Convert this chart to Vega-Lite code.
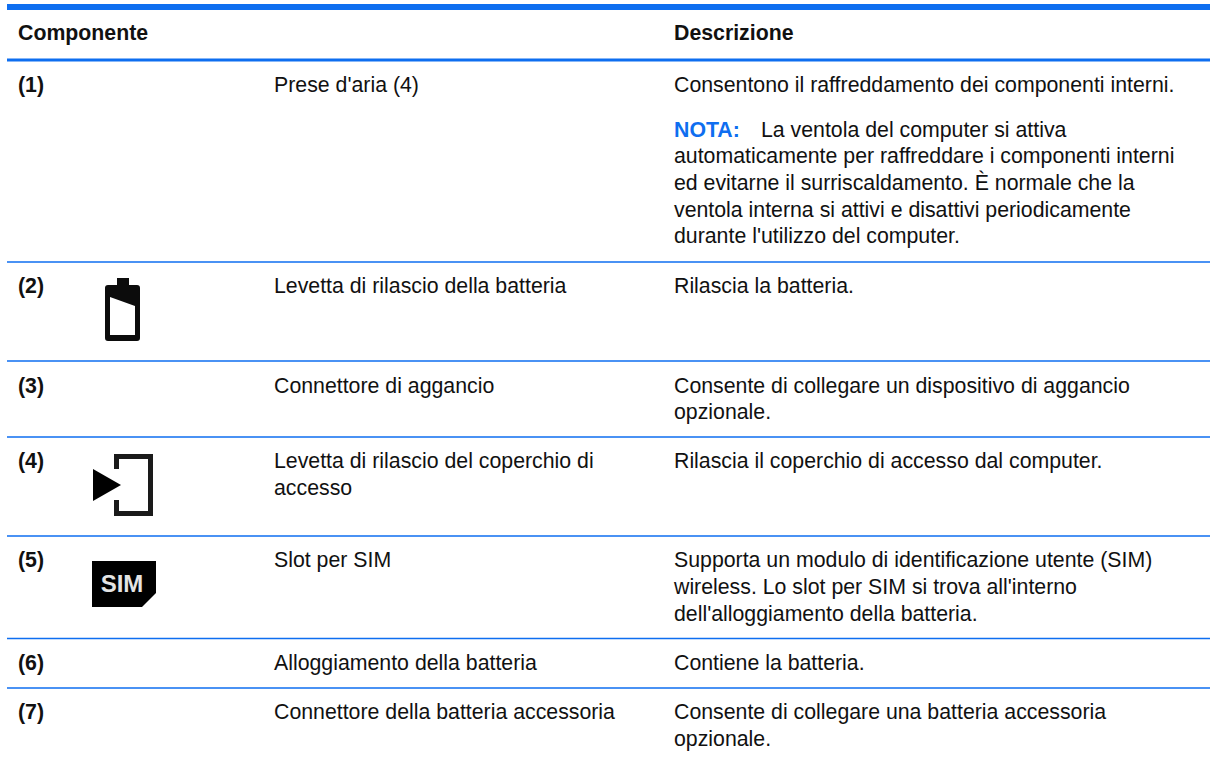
{"$schema":"https://vega.github.io/schema/vega-lite/v6.json","width":1210,"height":761,"padding":0,"autosize":"none","background":"white","config":{"view":{"stroke":null},"text":{"font":"Liberation Sans","fontSize":21.3,"align":"left","baseline":"alphabetic"}},
"datasets":{"rules":[{"a":7,"b":1210,"y":7,"w":6},{"a":7,"b":1210,"y":60,"w":3},{"a":7,"b":1210,"y":262,"w":1.5},{"a":7,"b":1210,"y":361,"w":1.5},{"a":7,"b":1210,"y":437,"w":1.5},{"a":7,"b":1210,"y":536,"w":1.5},{"a":7,"b":1210,"y":638.5,"w":1.5},{"a":7,"b":1210,"y":688,"w":1.5}],
"reg":[{"x":274,"y":92,"t":"Prese d'aria (4)"},{"x":674,"y":92,"t":"Consentono il raffreddamento dei componenti interni."},{"x":761,"y":137,"t":"La ventola del computer si attiva"},{"x":674,"y":163,"t":"automaticamente per raffreddare i componenti interni"},{"x":674,"y":190,"t":"ed evitarne il surriscaldamento. È normale che la"},{"x":674,"y":217,"t":"ventola interna si attivi e disattivi periodicamente"},{"x":674,"y":243,"t":"durante l'utilizzo del computer."},{"x":274,"y":293,"t":"Levetta di rilascio della batteria"},{"x":674,"y":293,"t":"Rilascia la batteria."},{"x":274,"y":393,"t":"Connettore di aggancio"},{"x":674,"y":393,"t":"Consente di collegare un dispositivo di aggancio"},{"x":674,"y":419,"t":"opzionale."},{"x":274,"y":468,"t":"Levetta di rilascio del coperchio di"},{"x":674,"y":468,"t":"Rilascia il coperchio di accesso dal computer."},{"x":274,"y":495,"t":"accesso"},{"x":274,"y":567,"t":"Slot per SIM"},{"x":674,"y":567,"t":"Supporta un modulo di identificazione utente (SIM)"},{"x":674,"y":594,"t":"wireless. Lo slot per SIM si trova all'interno"},{"x":674,"y":621,"t":"dell'alloggiamento della batteria."},{"x":274,"y":670,"t":"Alloggiamento della batteria"},{"x":674,"y":670,"t":"Contiene la batteria."},{"x":274,"y":719,"t":"Connettore della batteria accessoria"},{"x":674,"y":719,"t":"Consente di collegare una batteria accessoria"},{"x":674,"y":746,"t":"opzionale."}],
"bold":[{"x":18,"y":40,"t":"Componente"},{"x":674,"y":40,"t":"Descrizione"},{"x":18,"y":92,"t":"(1)"},{"x":18,"y":293,"t":"(2)"},{"x":18,"y":393,"t":"(3)"},{"x":18,"y":468,"t":"(4)"},{"x":18,"y":567,"t":"(5)"},{"x":18,"y":670,"t":"(6)"},{"x":18,"y":719,"t":"(7)"}],
"nota":[{"x":674,"y":137,"t":"NOTA:"}],
"batt":[{"x":122,"y":310}],"tri":[{"x":106,"y":485}],"door":[{"x":133,"y":485}],"sim":[{"x":124,"y":584}],"simt":[{"x":122,"y":592,"t":"SIM"}]},
"encoding":{"x":{"field":"x","type":"quantitative","scale":{"domain":[0,1210],"range":[0,1210],"nice":false,"zero":false},"axis":null},"y":{"field":"y","type":"quantitative","scale":{"domain":[0,761],"range":[0,761],"nice":false,"zero":false},"axis":null}},
"layer":[
{"data":{"name":"rules"},"mark":{"type":"rule","color":"#0E6EF0"},"encoding":{"x":{"field":"a","type":"quantitative","scale":{"domain":[0,1210],"range":[0,1210]},"axis":null},"x2":{"field":"b"},"y":{"field":"y","type":"quantitative","axis":null},"strokeWidth":{"field":"w","type":"quantitative","scale":null}}},
{"data":{"name":"reg"},"mark":{"type":"text","color":"#111111"},"encoding":{"text":{"field":"t"}}},
{"data":{"name":"bold"},"mark":{"type":"text","color":"#111111","fontWeight":"bold"},"encoding":{"text":{"field":"t"}}},
{"data":{"name":"nota"},"mark":{"type":"text","color":"#0E6EF0","fontWeight":"bold"},"encoding":{"text":{"field":"t"}}},
{"data":{"name":"batt"},"mark":{"type":"point","filled":true,"fill":"#0c0c0c","opacity":1,"size":4,"shape":"M-5,-32 H7 V-25 H15 Q18,-25 18,-22 V28 Q18,31 15,31 H-14 Q-17,31 -17,28 V-22 Q-17,-25 -14,-25 H-5 Z M-12,-13 V25 H13 V-4 Z"}},
{"data":{"name":"tri"},"mark":{"type":"point","filled":true,"fill":"#000000","opacity":1,"size":4,"shape":"M-13,-16 L15,0 L-13,16 Z"}},
{"data":{"name":"door"},"mark":{"type":"point","filled":false,"stroke":"#1a1a1a","strokeWidth":5,"opacity":1,"size":4,"shape":"M-16.5,-16 V-28.5 H17.5 V28.5 H-16.5 V15"}},
{"data":{"name":"sim"},"mark":{"type":"point","filled":true,"fill":"#000000","opacity":1,"size":4,"shape":"M-32,-23 H32 V9 L18,23 H-32 Z"}},
{"data":{"name":"simt"},"mark":{"type":"text","color":"#e4e4e4","fontWeight":"bold","fontSize":24,"align":"center"},"encoding":{"text":{"field":"t"}}}
]}
